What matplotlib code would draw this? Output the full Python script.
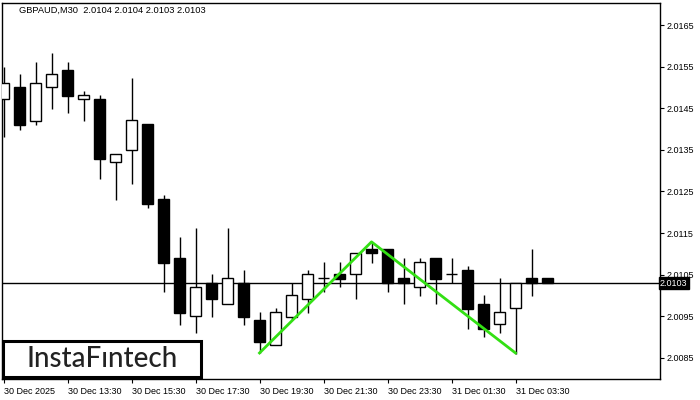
import matplotlib
matplotlib.use('Agg')
import matplotlib.pyplot as plt
from matplotlib.patches import Rectangle

# GBPAUD M30 candles
opens = [2.01472, 2.01501, 2.01419, 2.01501, 2.01542, 2.01472, 2.01472, 2.01321, 2.01350, 2.01412,
         2.01232, 2.01090, 2.00951, 2.01030, 2.00980, 2.01030, 2.00941, 2.00881, 2.00949, 2.00992,
         2.01042, 2.01052, 2.01052, 2.01112, 2.01112, 2.01042, 2.01021, 2.01090, 2.01052, 2.01061,
         2.00980, 2.00932, 2.00970, 2.01042, 2.01042]
highs = [2.01549, 2.01532, 2.01561, 2.01583, 2.01561, 2.01491, 2.01482, 2.01340, 2.01523, 2.01412,
         2.01242, 2.01141, 2.01162, 2.01052, 2.01162, 2.01061, 2.00961, 2.00970, 2.01030, 2.01061,
         2.01081, 2.01081, 2.01102, 2.01129, 2.01112, 2.01090, 2.01090, 2.01090, 2.01090, 2.01071,
         2.01001, 2.01042, 2.01030, 2.01112, 2.01042]
lows = [2.01381, 2.01398, 2.01410, 2.01448, 2.01439, 2.01419, 2.01280, 2.01230, 2.01268, 2.01210,
        2.01009, 2.00929, 2.00910, 2.00949, 2.00980, 2.00929, 2.00862, 2.00881, 2.00941, 2.00958,
        2.01009, 2.01021, 2.00992, 2.01078, 2.01009, 2.00980, 2.00999, 2.00980, 2.01030, 2.00920,
        2.00900, 2.00910, 2.00860, 2.00999, 2.01030]
closes = [2.01511, 2.01410, 2.01511, 2.01532, 2.01479, 2.01482, 2.01328, 2.01340, 2.01422, 2.01220,
          2.01078, 2.00958, 2.01021, 2.00992, 2.01042, 2.00949, 2.00888, 2.00961, 2.01001, 2.01052,
          2.01042, 2.01040, 2.01102, 2.01102, 2.01030, 2.01030, 2.01081, 2.01040, 2.01052, 2.00968,
          2.00920, 2.00961, 2.01030, 2.01030, 2.01030]

tick_idx = [0, 4, 8, 12, 16, 20, 24, 28, 32]
tick_labels = ['30 Dec 2025', '30 Dec 13:30', '30 Dec 15:30', '30 Dec 17:30', '30 Dec 19:30',
               '30 Dec 21:30', '30 Dec 23:30', '31 Dec 01:30', '31 Dec 03:30']
price_ticks = [2.0085, 2.0095, 2.0105, 2.0115, 2.0125, 2.0135, 2.0145, 2.0155, 2.0165]

# double top pattern
pattern_idx = [16, 23, 32]
pattern_price = [2.00862, 2.01129, 2.00862]

last_price = 2.0103
title = 'GBPAUD,M30  2.0104 2.0104 2.0103 2.0103'

plt.rcParams['font.family'] = ['Liberation Sans', 'DejaVu Sans']

fig = plt.figure(figsize=(7, 4), dpi=100)
ax = fig.add_axes([2 / 700, 21 / 400, 658 / 700, 376 / 400])

w = 0.66
for i in range(len(opens)):
    o, h, l, c = opens[i], highs[i], lows[i], closes[i]
    top, bot = max(o, c), min(o, c)
    ax.vlines(i, l, h, color='black', lw=1, zorder=2)
    if abs(o - c) < 1e-6:
        ax.hlines(o, i - w / 2, i + w / 2, color='black', lw=1, zorder=3)
    else:
        face = 'white' if c > o else 'black'
        ax.add_patch(Rectangle((i - w / 2, bot), w, top - bot, facecolor=face,
                               edgecolor='black', lw=1, zorder=3))

ax.axhline(last_price, color='black', lw=1, zorder=1)
ax.plot(pattern_idx, pattern_price, color='#33e014', lw=2, zorder=4)

ax.set_xlim(-0.094, 41.03)
ax.set_ylim(2.007995, 2.017029)

ax.set_xticks(tick_idx)
ax.set_xticklabels(tick_labels, ha='left')
ax.set_yticks(price_ticks)
ax.set_yticklabels([f'{p:.4f}' for p in price_ticks])
ax.yaxis.tick_right()
ax.tick_params(axis='both', labelsize=6.5, length=3, width=0.8, pad=2, colors='black')
ax.tick_params(axis='x', pad=3)
for s in ax.spines.values():
    s.set_linewidth(1)

# current price tag sits over the 2.0105 label, as in the terminal
ax.text(1.0, last_price, f'{last_price:.4f}', transform=ax.get_yaxis_transform(),
        ha='left', va='center', fontsize=6.5, color='white', zorder=5,
        bbox=dict(boxstyle='square,pad=0.15', facecolor='black', edgecolor='black'))

fig.text(19 / 700, 1 - 10 / 400, title, fontsize=6.7, va='center', ha='left')

fig.patches.append(Rectangle((3 / 700, 23 / 400), 198 / 700, 36 / 400, transform=fig.transFigure,
                             facecolor='white', edgecolor='black', lw=2.2, zorder=10))
fig.text(102 / 700, 41 / 400, 'InstaFıntech', fontsize=20, ha='center', va='center',
         color='#222222', family=['Lato', 'DejaVu Sans'], fontweight='medium', zorder=11)

fig.savefig('out.png', dpi=100)
